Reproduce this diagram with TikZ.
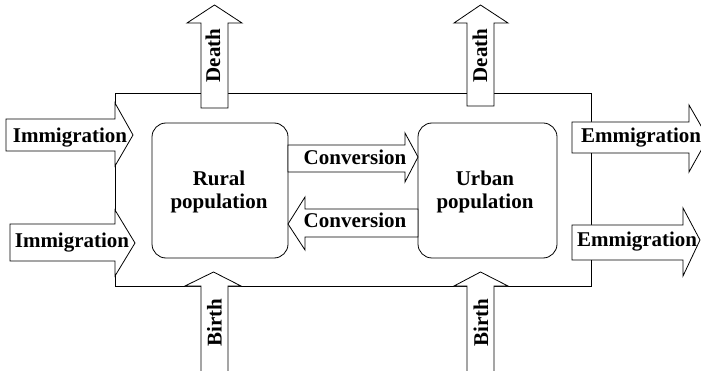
\documentclass[tikz,border=0pt]{standalone}
\usepackage{fontspec}
\setmainfont{Liberation Serif}
\begin{document}
\begin{tikzpicture}[x=1pt,y=-1pt,line width=0.8pt,
  flow/.style={draw, fill=white, line join=miter},
  lab/.style={font=\fontsize{21}{23}\selectfont\bfseries, inner sep=0pt, outer sep=0pt},
  popbox/.style={draw, rounded corners=14pt, inner sep=0pt, outer sep=0pt, minimum height=135pt},
  frame/.style={draw, inner sep=0pt, outer sep=0pt}]
\useasboundingbox (0,0) rectangle (701,371);
% system boundary
\node[frame, minimum width=476pt, minimum height=193pt] (system) at (353,189.5) {};
% immigration arrows
\draw[flow] (6,119) -- (115,119) -- (115,103) -- (133,135) -- (115,166) -- (115,151) -- (6,151) -- cycle;
\draw[flow] (10,224) -- (115,224) -- (115,210) -- (135,243) -- (115,276) -- (115,261) -- (10,261) -- cycle;
% emmigration arrows
\draw[flow] (572,122) -- (689,122) -- (689,105) -- (708,138) -- (689,172) -- (689,153) -- (572,153) -- cycle;
\draw[flow] (572,225) -- (683,225) -- (683,208) -- (700,240) -- (683,276) -- (683,260) -- (572,260) -- cycle;
% death arrows
\draw[flow] (201,108) -- (201,23) -- (187,23) -- (214.5,5) -- (242,23) -- (228,23) -- (228,108) -- cycle;
\draw[flow] (467,106) -- (467,23) -- (454,23) -- (480.5,5) -- (508,23) -- (494,23) -- (494,106) -- cycle;
% birth arrows
\draw[flow] (201,380) -- (201,286) -- (185,286) -- (213.5,272) -- (241,286) -- (228,286) -- (228,380);
\draw[flow] (467,380) -- (467,286) -- (454,286) -- (480.5,272) -- (508,286) -- (494,286) -- (494,380);
% population boxes
\node[popbox, minimum width=136pt] (rural) at (220,190.5) {};
\node[popbox, minimum width=139pt] (urban) at (487.5,190.5) {};
% conversion arrows
\draw[flow] (rural.east |- 0,145) -- (405,145) -- (405,133) -- (urban.west |- 0,157) -- (405,182) -- (405,172) -- (rural.east |- 0,172) -- cycle;
\draw[flow] (urban.west |- 0,209) -- (305,209) -- (305,197) -- (rural.east |- 0,224) -- (305,250) -- (305,237) -- (urban.west |- 0,237) -- cycle;
% labels
\node[lab, anchor=base] (rl1) at (219,186) {Rural};
\node[lab, anchor=base] (rl2) at (219,209) {population};
\node[lab, anchor=base] (ul1) at (485,186) {Urban};
\node[lab, anchor=base] (ul2) at (485,209) {population};
\node[lab, anchor=base] (im1) at (70,143) {Immigration};
\node[lab, anchor=base] (im2) at (72,248) {Immigration};
\node[lab, anchor=base west] (em1) at (581,143) {Emmigration};
\node[lab, anchor=base west] (em2) at (577,247) {Emmigration};
\node[lab, anchor=base] (cv1) at (355,165) {Conversion};
\node[lab, anchor=base] (cv2) at (355,228) {Conversion};
\node[lab, rotate=90, anchor=base] (d1) at (220,55.5) {Death};
\node[lab, rotate=90, anchor=base] (d2) at (487,55.5) {Death};
\node[lab, rotate=90, anchor=base] (b1) at (221.5,322.5) {Birth};
\node[lab, rotate=90, anchor=base] (b2) at (488,322.5) {Birth};
\end{tikzpicture}
\end{document}
